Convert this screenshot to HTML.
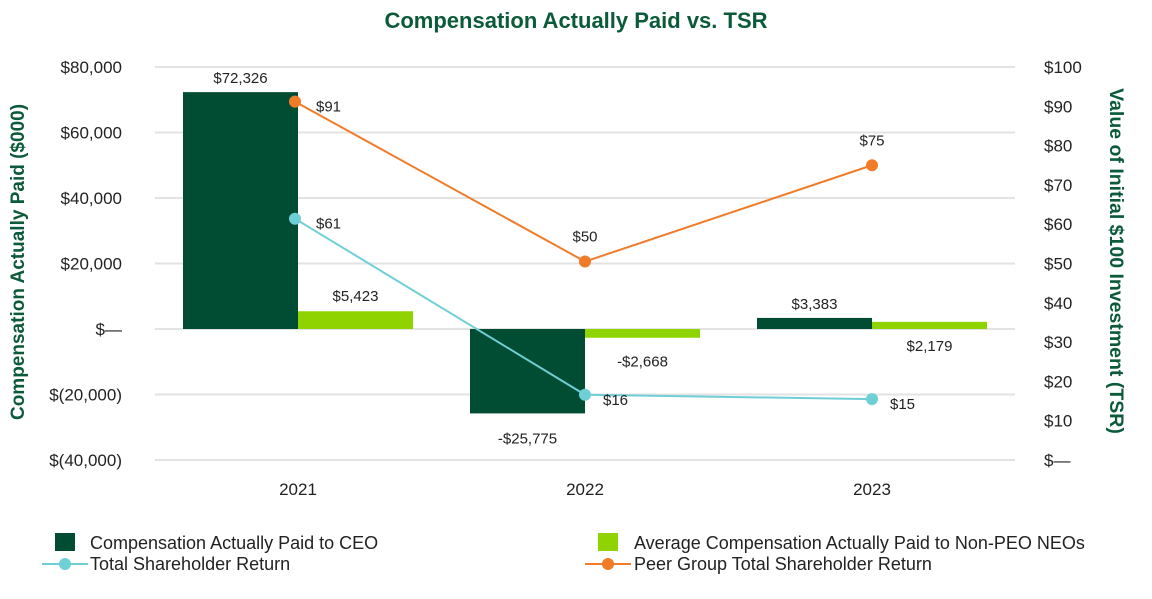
<!DOCTYPE html>
<html><head><meta charset="utf-8"><style>
body{margin:0;background:#fff;font-family:"Liberation Sans",sans-serif;}
svg text{font-family:"Liberation Sans",sans-serif;}
</style></head><body>
<svg id="chart" width="1152" height="594" viewBox="0 0 1152 594">
<text x="576" y="28" text-anchor="middle" font-size="22" font-weight="bold" fill="#0b5a3a">Compensation Actually Paid vs. TSR</text>
<text transform="translate(24,262) rotate(-90)" text-anchor="middle" font-size="19" font-weight="bold" fill="#0b5a3a">Compensation Actually Paid ($000)</text>
<text transform="translate(1110,261) rotate(90)" text-anchor="middle" font-size="19.5" font-weight="bold" fill="#0b5a3a">Value of Initial $100 Investment (TSR)</text>
<g id="grid"></g><g id="bars"></g><g id="lines"></g><g id="labels"></g>
<g font-size="18" fill="#222">
<rect x="55" y="533" width="20" height="18" fill="#004d33"/>
<text x="90" y="549">Compensation Actually Paid to CEO</text>
<rect x="598" y="533" width="20" height="18" fill="#8fd400"/>
<text x="634" y="549">Average Compensation Actually Paid to Non-PEO NEOs</text>
<line x1="42" y1="564" x2="88" y2="564" stroke="#6fcfd6" stroke-width="2"/><circle cx="65" cy="564" r="6" fill="#6fcfd6"/>
<text x="90" y="570">Total Shareholder Return</text>
<line x1="585" y1="564" x2="631" y2="564" stroke="#f07c2a" stroke-width="2"/><circle cx="608" cy="564" r="6" fill="#f07c2a"/>
<text x="634" y="570">Peer Group Total Shareholder Return</text>
</g>
</svg>
<script>
const categories=["2021","2022","2023"];
const ceoValues=[72326,-25775,3383];
const neoValues=[5423,-2668,2179];
const tsrValues=[61.4,16.6,15.5];
const peerValues=[91.2,50.5,75];
const tsrLabels=["$61","$16","$15"];
const peerLabels=["$91","$50","$75"];
const leftTicks=[80000,60000,40000,20000,0,-20000,-40000];
const leftTickLabels=["$80,000","$60,000","$40,000","$20,000","$—","$(20,000)","$(40,000)"];
const rightTicks=[100,90,80,70,60,50,40,30,20,10,0];
const rightTickLabels=["$100","$90","$80","$70","$60","$50","$40","$30","$20","$10","$—"];
const NS="http://www.w3.org/2000/svg";
const yL=v=>67+(80000-v)/120000*393;
const yR=v=>67+(100-v)/100*393;
const xC=i=>298+i*287;
const bw=115;
function mk(tag,attrs,parent,txt){const e=document.createElementNS(NS,tag);for(const k in attrs)e.setAttribute(k,attrs[k]);if(txt!==undefined)e.textContent=txt;document.getElementById(parent).appendChild(e);return e;}
const fmt=v=>(v<0?"-$":"$")+Math.abs(v).toLocaleString("en-US");
leftTicks.forEach((t,i)=>{
 const l=mk("line",{x1:155,x2:1015,y1:yL(t),y2:yL(t),stroke:"#e3e3e3","stroke-width":2},"grid");
 
 
 const tx=mk("text",{x:122,y:yL(t)+6,"text-anchor":"end","font-size":17,fill:"#222"},"grid",leftTickLabels[i]);
 
 
});
rightTicks.forEach((t,i)=>{
 const tx=mk("text",{x:1044,y:yR(t)+6,"font-size":17,fill:"#222"},"grid",rightTickLabels[i]);
 
 
});
categories.forEach((c,i)=>{
 const tx=mk("text",{x:xC(i),y:495,"text-anchor":"middle","font-size":17,fill:"#222"},"grid",c);
 
 
 const v1=ceoValues[i],v2=neoValues[i];
 const b1=mk("rect",{x:xC(i)-bw,y:Math.min(yL(v1),yL(0)),width:bw,height:Math.abs(yL(v1)-yL(0)),fill:"#004d33"},"bars");
 
 
 const b2=mk("rect",{x:xC(i),y:Math.min(yL(v2),yL(0)),width:bw,height:Math.abs(yL(v2)-yL(0)),fill:"#8fd400"},"bars");
 
 
 const l1=mk("text",{x:xC(i)-bw/2,y:v1>=0?yL(v1)-9:yL(v1)+30,"text-anchor":"middle","font-size":15,fill:"#222"},"labels",fmt(v1));
 
 
 const l2=mk("text",{x:xC(i)+bw/2,y:i==0?yL(v2)-10:yL(v2)+29,"text-anchor":"middle","font-size":15,fill:"#222"},"labels",fmt(v2));
 
 
});
function series(vals,labels,color,name,lblPos){
 const pts=vals.map((v,i)=>xC(i)-3*(i==0)+","+yR(v)).join(" ");
 const pl=mk("polyline",{points:pts,fill:"none",stroke:color,"stroke-width":2},"lines");
 
 
 vals.forEach((v,i)=>{
  const c=mk("circle",{cx:xC(i)-3*(i==0),cy:yR(v),r:6,fill:color},"lines");
  
  
  const p=lblPos(i);
  const t=mk("text",{x:xC(i)+p[0],y:yR(v)+p[1],"text-anchor":p[2],"font-size":15,fill:"#222"},"labels",labels[i]);
  
  
 });
}
series(tsrValues,tsrLabels,"#6fcfd6","tsr",i=>[18,10,"start"]);
series(peerValues,peerLabels,"#f07c2a","peer",i=>i==0?[18,10,"start"]:[0,-20,"middle"]);
</script>
</body></html>
